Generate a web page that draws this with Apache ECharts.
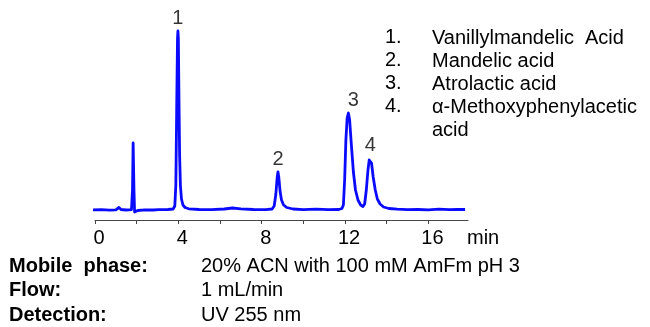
<!DOCTYPE html>
<html>
<head>
<meta charset="utf-8">
<script src="https://cdn.jsdelivr.net/npm/echarts@6/dist/echarts.min.js"></script>
<style>
html,body{margin:0;padding:0;background:#fff;}
#chart{width:650px;height:327px;}
</style>
</head>
<body>
<div id="chart"></div>
<script>
// Retention time (min) and detector signal (arbitrary units, baseline = 0)
var times = [-0.24,0.3,0.7,1.0,1.15,1.25,1.5,1.75,1.80,1.83,1.87,1.90,1.96,2.05,2.4,2.8,3.05,3.12,3.2,3.5,3.75,3.83,3.88,3.92,3.96,3.98,4.00,4.03,4.06,4.10,4.15,4.22,4.32,4.5,5.0,5.6,6.2,6.6,7.0,7.6,8.2,8.5,8.6,8.68,8.74,8.78,8.82,8.88,8.95,9.05,9.2,9.5,10.0,10.6,11.2,11.7,11.85,11.92,11.98,12.04,12.10,12.16,12.22,12.30,12.40,12.50,12.62,12.75,12.86,12.94,13.02,13.10,13.16,13.21,13.27,13.35,13.45,13.55,13.68,13.85,14.1,14.5,15.0,15.5,16.0,16.5,17.0,17.4,17.76];
var signal = [0,0.3,-0.2,0.2,2.5,0.5,0,0.3,20,67,20,-2,-3,-0.5,0.2,0,0.4,2.2,0.3,0.5,1,4,25,100,172,179,172,110,55,24,11,5,2.5,1.2,0.5,0.3,1,2,1.2,0.5,0.4,1,4,16,32,38,33,19,10,5,2.5,1,0.4,0.8,0.3,0.5,1.5,5,30,70,92,97,90,66,38,20,10,5,3.5,6,20,40,50,52,47,33,20,11,6,3,1.5,0.8,0.3,0.5,0.2,0.8,0.3,0.6,0.5];

var peakLabels = ['1','2','3','4'];
var peakTimes = [3.98, 8.78, 12.16, 13.21];
var peakHeights = [179, 38, 97, 52];

var compoundNums = ['1.','2.','3.','4.'];
var compoundNames = ['Vanillylmandelic  Acid','Mandelic acid','Atrolactic acid','\u03b1-Methoxyphenylacetic\nacid'];

var condLabels = ['Mobile  phase:','Flow:','Detection:'];
var condValues = ['20% ACN with 100 mM AmFm pH 3','1 mL/min','UV 255 nm'];

var xTicks = [0,4,8,12,16];
var xUnit = 'min';

var FONT = '"Liberation Sans", Arial, sans-serif';

var lineData = times.map(function(t,i){return [t, signal[i]];});
var peakData = peakTimes.map(function(t,i){
  return {value:[t, peakHeights[i]], name: peakLabels[i],
          label: i===2 ? {offset:[5,0]} : {}};
});

var graphics = [];
compoundNums.forEach(function(n,i){
  graphics.push({type:'text', left:385, top:27 + i*23,
    style:{text:n, font:'20px ' + FONT, fill:'#000'}});
  graphics.push({type:'text', left:432, top:27 + i*23,
    style:{text:compoundNames[i], font:'20px ' + FONT, fill:'#000', lineHeight:23}});
});
condLabels.forEach(function(l,i){
  graphics.push({type:'text', left:9, top:256 + i*24.5,
    style:{text:l, font:'bold 20px ' + FONT, fill:'#000'}});
  graphics.push({type:'text', left:201, top:256 + i*24.5,
    style:{text:condValues[i], font:'20px ' + FONT, fill:'#000'}});
});

var chart = echarts.init(document.getElementById('chart'), null, {renderer:'canvas'});
chart.setOption({
  animation:false,
  backgroundColor:'#fff',
  grid:{left:95, right:182, top:20, bottom:107, containLabel:false},
  xAxis:{
    type:'value', min:0, max:17.9, interval:2,
    name:xUnit, nameLocation:'end', nameGap:-1,
    nameTextStyle:{fontFamily:FONT, fontSize:20, color:'#000', verticalAlign:'top', padding:[8,0,0,0]},
    axisLine:{show:true, onZero:false, lineStyle:{color:'#444', width:1}},
    axisTick:{show:true, length:4, lineStyle:{color:'#444', width:1}},
    splitLine:{show:false},
    axisLabel:{
      margin:8, fontFamily:FONT, fontSize:20, color:'#000', padding:[0,0,0,8],
      showMaxLabel:false,
      formatter:function(v){ return xTicks.indexOf(v) >= 0 ? String(v) : ''; }
    }
  },
  yAxis:{type:'value', min:-10, max:190, show:false, splitLine:{show:false}},
  series:[
    {type:'line', data:lineData, clip:false, showSymbol:false, symbol:'none',
     lineStyle:{color:'#0a0aff', width:2.8, join:'round'}, smooth:false},
    {type:'scatter', data:peakData, symbolSize:0, clip:false,
     label:{show:true, position:'top', distance:3, formatter:'{b}',
            fontFamily:FONT, fontSize:20, color:'#000'}}
  ],
  graphic:graphics
});
</script>
</body>
</html>
